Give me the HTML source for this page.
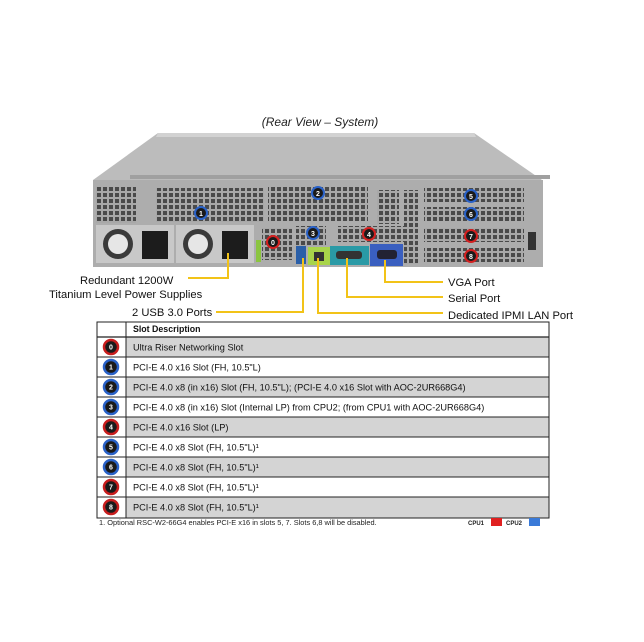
<!DOCTYPE html>
<html><head><meta charset="utf-8"><style>
body{margin:0;background:#fff;}
svg{display:block;font-family:"Liberation Sans",Arial,sans-serif;}
</style></head><body>
<svg width="644" height="642" viewBox="0 0 644 642" xmlns="http://www.w3.org/2000/svg">
<defs>
<pattern id="grill" width="6" height="6" patternUnits="userSpaceOnUse">
<rect width="6" height="6" fill="#a8a8a8"/><rect x="1" y="1" width="4" height="4" fill="#4a4a4a"/>
</pattern>
</defs>
<text x="320" y="126" font-size="12" font-style="italic" text-anchor="middle" fill="#222">(Rear View – System)</text>
<polygon points="158,133 474,133 542,180 93,180" fill="#bcbcbc"/>
<polygon points="158,133 474,133 476,137 156,137" fill="#d2d2d2"/>
<rect x="130" y="175" width="420" height="4" fill="#a0a0a0"/>
<rect x="93" y="180" width="450" height="87" fill="#adadad"/>
<rect x="96" y="187" width="40" height="36" fill="url(#grill)"/>
<rect x="156" y="188" width="108" height="34" fill="url(#grill)"/>
<rect x="268" y="187" width="100" height="34" fill="url(#grill)"/>
<rect x="377" y="190" width="22" height="34" fill="url(#grill)"/>
<rect x="424" y="188" width="100" height="14" fill="url(#grill)"/>
<rect x="424" y="207" width="100" height="14" fill="url(#grill)"/>
<rect x="424" y="228" width="100" height="14" fill="url(#grill)"/>
<rect x="424" y="248" width="100" height="14" fill="url(#grill)"/>
<rect x="404" y="190" width="14" height="74" fill="url(#grill)"/>
<rect x="262" y="228" width="30" height="32" fill="url(#grill)"/>
<rect x="296" y="226" width="30" height="20" fill="url(#grill)"/>
<rect x="338" y="226" width="70" height="16" fill="url(#grill)"/>
<rect x="96" y="225" width="78" height="38" fill="#c8c8c8"/>
<rect x="176" y="225" width="78" height="38" fill="#c8c8c8"/>
<circle cx="118" cy="244" r="15" fill="#3a3a3a"/><circle cx="118" cy="244" r="10" fill="#e6e6e6"/>
<circle cx="198" cy="244" r="15" fill="#3a3a3a"/><circle cx="198" cy="244" r="10" fill="#e6e6e6"/>
<rect x="142" y="231" width="26" height="28" fill="#1c1c1c"/>
<rect x="222" y="231" width="26" height="28" fill="#1c1c1c"/>
<rect x="256" y="240" width="5" height="22" fill="#8bc53f"/>
<rect x="296" y="246" width="10" height="18" fill="#2a5fa8"/>
<rect x="308" y="247" width="22" height="18" fill="#a8d44a"/>
<rect x="314" y="252" width="10" height="9" fill="#333"/>
<rect x="330" y="246" width="39" height="19" fill="#2a9aa6"/>
<rect x="336" y="251" width="26" height="8" rx="3" fill="#333"/>
<rect x="370" y="244" width="33" height="22" fill="#3a5fc0"/>
<rect x="377" y="250" width="20" height="9" rx="3" fill="#223"/>
<rect x="528" y="232" width="8" height="18" fill="#333"/>
<g font-size="7" font-weight="bold" fill="#fff" text-anchor="middle">
<circle cx="201" cy="213" r="6" fill="#1a1a1a" stroke="#2a62c8" stroke-width="2"/><text x="201" y="216">1</text>
<circle cx="318" cy="193" r="6" fill="#1a1a1a" stroke="#2a62c8" stroke-width="2"/><text x="318" y="196">2</text>
<circle cx="471" cy="196" r="6" fill="#1a1a1a" stroke="#2a62c8" stroke-width="2"/><text x="471" y="199">5</text>
<circle cx="471" cy="214" r="6" fill="#1a1a1a" stroke="#2a62c8" stroke-width="2"/><text x="471" y="217">6</text>
<circle cx="471" cy="236" r="6" fill="#1a1a1a" stroke="#d42020" stroke-width="2"/><text x="471" y="239">7</text>
<circle cx="471" cy="256" r="6" fill="#1a1a1a" stroke="#d42020" stroke-width="2"/><text x="471" y="259">8</text>
<circle cx="273" cy="242" r="6" fill="#1a1a1a" stroke="#d42020" stroke-width="2"/><text x="273" y="245">0</text>
<circle cx="313" cy="233" r="6" fill="#1a1a1a" stroke="#2a62c8" stroke-width="2"/><text x="313" y="236">3</text>
<circle cx="369" cy="234" r="6" fill="#1a1a1a" stroke="#d42020" stroke-width="2"/><text x="369" y="237">4</text>
</g>
<g stroke="#f2c318" stroke-width="2" fill="none">
<polyline points="188,278 228,278 228,253"/>
<polyline points="216,312 303,312 303,258"/>
<polyline points="443,313 318,313 318,258"/>
<polyline points="443,297 347,297 347,258"/>
<polyline points="443,282 385,282 385,260"/>
</g>
<g font-size="11.2" fill="#111">
<text x="80" y="284">Redundant 1200W</text>
<text x="49" y="298">Titanium Level Power Supplies</text>
<text x="132" y="316">2 USB 3.0 Ports</text>
<text x="448" y="286">VGA Port</text>
<text x="448" y="302">Serial Port</text>
<text x="448" y="319">Dedicated IPMI LAN Port</text>
</g>
<rect x="97" y="322" width="452" height="196" fill="#fff" stroke="#222" stroke-width="1"/>
<g fill="#d4d4d4">
<rect x="126.5" y="337.5" width="422" height="19"/>
<rect x="126.5" y="377.5" width="422" height="19"/>
<rect x="126.5" y="417.5" width="422" height="19"/>
<rect x="126.5" y="457.5" width="422" height="19"/>
<rect x="126.5" y="497.5" width="422" height="20"/>
</g>
<text x="133" y="332" font-weight="bold" font-size="8.8" fill="#111">Slot Description</text>
<g stroke="#222" stroke-width="1">
<line x1="97" y1="337" x2="549" y2="337" stroke-width="1.3"/>
<line x1="126" y1="322" x2="126" y2="518"/>
<line x1="97" y1="357" x2="549" y2="357"/><line x1="97" y1="377" x2="549" y2="377"/>
<line x1="97" y1="397" x2="549" y2="397"/><line x1="97" y1="417" x2="549" y2="417"/>
<line x1="97" y1="437" x2="549" y2="437"/><line x1="97" y1="457" x2="549" y2="457"/>
<line x1="97" y1="477" x2="549" y2="477"/><line x1="97" y1="497" x2="549" y2="497"/>
</g>
<g font-size="9.2" fill="#111">
<text x="133" y="350.5">Ultra Riser Networking Slot</text>
<text x="133" y="370.5">PCI-E 4.0 x16 Slot (FH, 10.5"L)</text>
<text x="133" y="390.5">PCI-E 4.0 x8 (in x16) Slot (FH, 10.5"L); (PCI-E 4.0 x16 Slot with AOC-2UR668G4)</text>
<text x="133" y="410.5">PCI-E 4.0 x8 (in x16) Slot (Internal LP) from CPU2; (from CPU1 with AOC-2UR668G4)</text>
<text x="133" y="430.5">PCI-E 4.0 x16 Slot (LP)</text>
<text x="133" y="450.5">PCI-E 4.0 x8 Slot (FH, 10.5"L)¹</text>
<text x="133" y="470.5">PCI-E 4.0 x8 Slot (FH, 10.5"L)¹</text>
<text x="133" y="490.5">PCI-E 4.0 x8 Slot (FH, 10.5"L)¹</text>
<text x="133" y="510.5">PCI-E 4.0 x8 Slot (FH, 10.5"L)¹</text>
</g>
<g font-size="7" font-weight="bold" fill="#fff" text-anchor="middle">
<circle cx="111" cy="347" r="7" fill="#1a1a1a" stroke="#c81e1e" stroke-width="2.5"/><text x="111" y="349.5">0</text>
<circle cx="111" cy="367" r="7" fill="#1a1a1a" stroke="#2a62c8" stroke-width="2.5"/><text x="111" y="369.5">1</text>
<circle cx="111" cy="387" r="7" fill="#1a1a1a" stroke="#2a62c8" stroke-width="2.5"/><text x="111" y="389.5">2</text>
<circle cx="111" cy="407" r="7" fill="#1a1a1a" stroke="#2a62c8" stroke-width="2.5"/><text x="111" y="409.5">3</text>
<circle cx="111" cy="427" r="7" fill="#1a1a1a" stroke="#c81e1e" stroke-width="2.5"/><text x="111" y="429.5">4</text>
<circle cx="111" cy="447" r="7" fill="#1a1a1a" stroke="#2a62c8" stroke-width="2.5"/><text x="111" y="449.5">5</text>
<circle cx="111" cy="467" r="7" fill="#1a1a1a" stroke="#2a62c8" stroke-width="2.5"/><text x="111" y="469.5">6</text>
<circle cx="111" cy="487" r="7" fill="#1a1a1a" stroke="#c81e1e" stroke-width="2.5"/><text x="111" y="489.5">7</text>
<circle cx="111" cy="507" r="7" fill="#1a1a1a" stroke="#c81e1e" stroke-width="2.5"/><text x="111" y="509.5">8</text>
</g>
<text x="99" y="525" font-size="7.4" fill="#222">1. Optional  RSC-W2-66G4 enables  PCI-E x16 in slots 5, 7.  Slots 6,8 will be disabled.</text>
<text x="468" y="525" font-size="6" font-weight="bold" fill="#222">CPU1</text>
<rect x="491" y="518" width="11" height="8" fill="#e02020"/>
<text x="506" y="525" font-size="6" font-weight="bold" fill="#222">CPU2</text>
<rect x="529" y="518" width="11" height="8" fill="#3a7ad8"/>
</svg>
</body></html>
